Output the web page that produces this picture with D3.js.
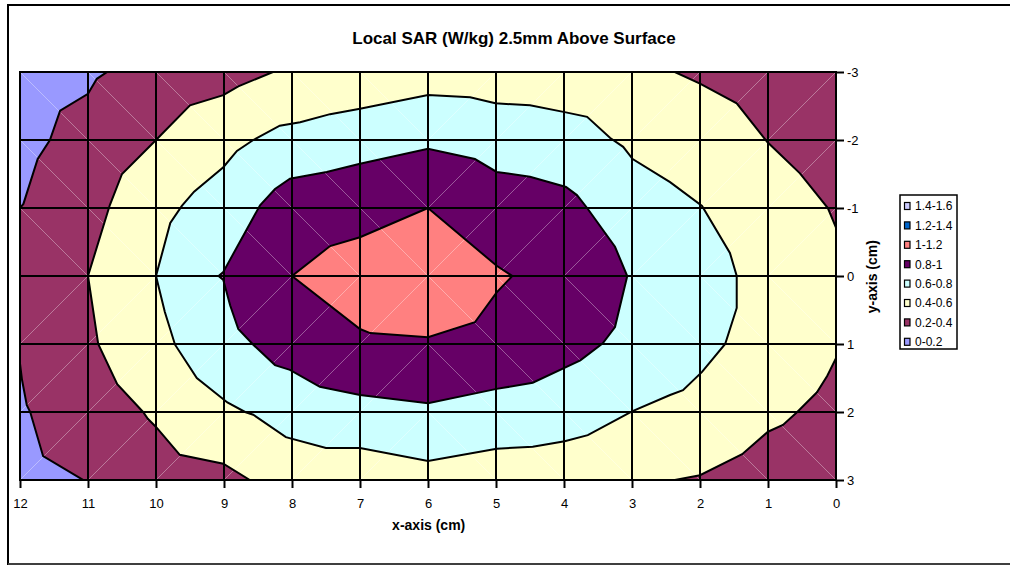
<!DOCTYPE html>
<html><head><meta charset="utf-8">
<script src="https://cdn.jsdelivr.net/npm/d3@7"></script>
<style>
body{margin:0;background:#fff;}
svg{display:block;font-family:Arial,"Liberation Sans",sans-serif;}
</style>
</head><body>
<svg id="chart" width="1010" height="565"></svg>
<script>
// ---------- data ----------
const title = "Local SAR (W/kg) 2.5mm Above Surface";
const xTicks = [12,11,10,9,8,7,6,5,4,3,2,1,0];
const yTicks = [-3,-2,-1,0,1,2,3];
const bandLabels = ["0-0.2","0.2-0.4","0.4-0.6","0.6-0.8","0.8-1","1-1.2","1.2-1.4","1.4-1.6"];
const bandColors = ["#9999FF","#993366","#FFFFCC","#CCFFFF","#660066","#FF8080","#0066CC","#CCCCFF"];

// contour regions, in data units [x cm, y cm]
const region0to02Top = [[12,-3],[10.72,-3],[10.87,-2.9],[11.0,-2.68],[11.41,-2.43],[11.56,-2.0],[11.74,-1.72],[11.95,-1.06],[12,-1.0]];
const region0to02Bottom = [[12,1.29],[11.97,1.53],[11.9,1.9],[11.85,2.0],[11.66,2.65],[11.07,3],[12,3]];
const region04Up = [[8.28,-3],[8.79,-2.79],[9.01,-2.66],[9.5,-2.51],[10.0,-2.0],[10.5,-1.5],[10.68,-1.04],[11.0,0],[10.85,1.0],[10.57,1.59],[10.19,2.0],[10.12,2.1],[10.0,2.22],[9.65,2.63],[9.01,2.76],[8.62,3],[2.37,3],[2.0,2.93],[1.38,2.62],[1.0,2.29],[0.78,2.19],[0.57,2.0],[0.28,1.71],[0.13,1.47],[0,1.21],[0,-0.71],[0.12,-1.0],[0.53,-1.51],[1.01,-1.97],[1.46,-2.54],[2.0,-2.83],[2.37,-3]];
const region06Up = [[10,0],[9.79,-0.78],[9.62,-1.03],[9.44,-1.24],[9.01,-1.6],[8.81,-1.84],[8.57,-2.0],[8.18,-2.21],[7.88,-2.26],[7.44,-2.38],[7.0,-2.46],[6.0,-2.66],[5.38,-2.63],[5.01,-2.54],[4.5,-2.51],[3.99,-2.41],[3.66,-2.34],[3.32,-2.03],[3.13,-1.9],[2.99,-1.72],[2.44,-1.38],[1.97,-1.03],[1.56,-0.34],[1.46,0],[1.46,0.47],[1.63,1.0],[1.97,1.41],[2.25,1.68],[2.44,1.75],[3.0,1.99],[3.65,2.34],[3.99,2.43],[4.46,2.51],[4.99,2.54],[6.0,2.72],[7.0,2.53],[7.5,2.53],[8.09,2.37],[8.57,2.04],[8.69,2.0],[8.95,1.86],[9.4,1.5],[9.72,1.01],[9.87,0.53]];
const region08Up = [[9.08,0],[9.01,-0.06],[8.47,-1.04],[8.25,-1.28],[8.03,-1.43],[7.49,-1.53],[7.0,-1.65],[6.0,-1.87],[5.31,-1.72],[4.99,-1.53],[4.5,-1.46],[3.97,-1.31],[3.81,-1.19],[3.66,-1.0],[3.25,-0.43],[3.07,0],[3.25,0.75],[3.43,0.99],[3.76,1.24],[4.46,1.57],[4.99,1.66],[6.0,1.87],[7.0,1.75],[7.59,1.63],[8.03,1.38],[8.25,1.31],[8.57,1.01],[8.79,0.78],[8.91,0.43],[9.01,0.06]];
const region1Up = [[6.0,-1.0],[4.99,-0.15],[4.76,0],[4.99,0.24],[5.31,0.68],[6.0,0.9],[6.85,0.84],[7.0,0.78],[8.0,0],[7.44,-0.44],[7.0,-0.57]];

// ---------- layout ----------
const svg = d3.select("#chart");
const x = d3.scaleLinear().domain([d3.max(xTicks), d3.min(xTicks)]).range([20, 836]);
const y = d3.scaleLinear().domain([d3.min(yTicks), d3.max(yTicks)]).range([72, 480]);

// outer frame
svg.append("path").attr("d","M1012,5H8V564H1012").attr("fill","none").attr("stroke","#000").attr("stroke-width",2);
svg.append("line").attr("x1",8).attr("x2",1012).attr("y1",564).attr("y2",564).attr("stroke","#555").attr("stroke-width",1.5);

// title
svg.append("text").attr("x",514).attr("y",44).attr("text-anchor","middle")
  .attr("font-size",17).attr("font-weight","bold").text(title);

svg.append("clipPath").attr("id","plotclip").append("rect")
  .attr("x",x.range()[0]).attr("y",y.range()[0])
  .attr("width",x.range()[1]-x.range()[0]).attr("height",y.range()[1]-y.range()[0]);

const plot = svg.append("g").attr("clip-path","url(#plotclip)");
const plotDomain = [[d3.max(xTicks),d3.min(yTicks)],[d3.min(xTicks),d3.min(yTicks)],[d3.min(xTicks),d3.max(yTicks)],[d3.max(xTicks),d3.max(yTicks)]];

const layers = [
  {band:1, pts:plotDomain},
  {band:0, pts:region0to02Top},
  {band:0, pts:region0to02Bottom},
  {band:2, pts:region04Up},
  {band:3, pts:region06Up},
  {band:4, pts:region08Up},
  {band:5, pts:region1Up}
];
const line = d3.line().x(d=>x(d[0])).y(d=>y(d[1]));

plot.selectAll("path.fill").data(layers).join("path").attr("class","fill")
  .attr("d",d=>line(d.pts)+"Z").attr("fill",d=>bandColors[d.band]).attr("stroke","none");

// faint triangulation diagonals
const xc = (d3.max(xTicks)+d3.min(xTicks))/2, yc = (d3.max(yTicks)+d3.min(yTicks))/2;
const diags = [];
for (let i=0;i<xTicks.length-1;i++) for (let j=0;j<yTicks.length-1;j++){
  const xa=xTicks[i], xb=xTicks[i+1], ya=yTicks[j], yb=yTicks[j+1];
  const back = ((xa+xb)/2>xc) === ((ya+yb)/2<yc);
  diags.push(back ? [[xa,ya],[xb,yb]] : [[xa,yb],[xb,ya]]);
}
plot.selectAll("path.diag").data(diags).join("path").attr("class","diag")
  .attr("d",d=>line(d)).attr("stroke","#fff").attr("stroke-opacity",0.35).attr("stroke-width",1).attr("fill","none");

plot.selectAll("path.edge").data(layers.slice(1)).join("path").attr("class","edge")
  .attr("d",d=>line(d.pts)+"Z").attr("fill","none").attr("stroke","#000").attr("stroke-width",2);

// grid
svg.append("g").selectAll("line").data(xTicks).join("line")
  .attr("x1",d=>x(d)).attr("x2",d=>x(d)).attr("y1",y.range()[0]).attr("y2",y.range()[1])
  .attr("stroke","#000").attr("stroke-width",2);
svg.append("g").selectAll("line").data(yTicks).join("line")
  .attr("y1",d=>y(d)).attr("y2",d=>y(d)).attr("x1",x.range()[0]).attr("x2",x.range()[1])
  .attr("stroke","#000").attr("stroke-width",2);
svg.append("rect").attr("x",x.range()[0]).attr("y",y.range()[0])
  .attr("width",x.range()[1]-x.range()[0]).attr("height",y.range()[1]-y.range()[0])
  .attr("fill","none").attr("stroke","#000").attr("stroke-width",2);

// axes
const xAxis = svg.append("g").attr("transform",`translate(0,${y.range()[1]})`)
  .call(d3.axisBottom(x).tickValues(xTicks).tickSize(8).tickPadding(11).tickFormat(d=>String(d)));
const yAxis = svg.append("g").attr("transform",`translate(${x.range()[1]},0)`)
  .call(d3.axisRight(y).tickValues(yTicks).tickSize(8).tickPadding(3).tickFormat(d=>String(d)));
[xAxis,yAxis].forEach(a=>{
  a.select(".domain").remove();
  a.selectAll(".tick line").attr("stroke","#000").attr("stroke-width",2);
  a.selectAll(".tick text").attr("font-size",13).attr("fill","#000").attr("font-family",'Arial,"Liberation Sans",sans-serif');
});

svg.append("text").attr("x",428.7).attr("y",530).attr("text-anchor","middle")
  .attr("font-size",14).attr("font-weight","bold").text("x-axis (cm)");
svg.append("text").attr("transform","translate(876.7,276.7) rotate(-90)").attr("text-anchor","middle")
  .attr("font-size",14).attr("font-weight","bold").text("y-axis (cm)");

// legend
const legend = svg.append("g");
legend.append("rect").attr("x",900).attr("y",195).attr("width",57).attr("height",154)
  .attr("fill","#fff").attr("stroke","#000").attr("stroke-width",1.5);
const legendItems = bandLabels.map((l,i)=>({label:l,color:bandColors[i]})).reverse();
const li = legend.selectAll("g.item").data(legendItems).join("g").attr("class","item")
  .attr("transform",(d,i)=>`translate(0,${206+i*19.4})`);
li.append("rect").attr("x",904.5).attr("y",-3.5).attr("width",5.5).attr("height",7)
  .attr("fill",d=>d.color).attr("stroke","#000").attr("stroke-width",1.2);
li.append("text").attr("x",915).attr("dy","0.36em").attr("font-size",12).text(d=>d.label);
</script>
</body></html>
